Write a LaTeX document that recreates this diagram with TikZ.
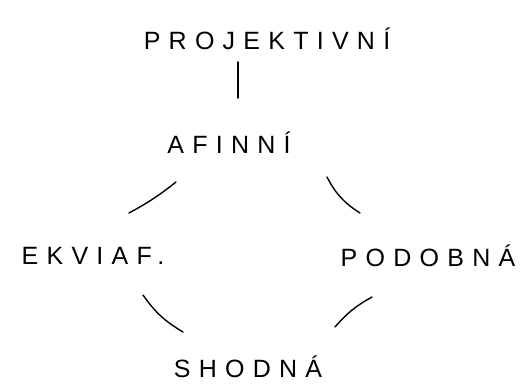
\documentclass[tikz,border=0pt]{standalone}
\usepackage{fontspec}
\newfontfamily\handfont[LetterSpace=33]{Liberation Sans}
\usetikzlibrary{calc}
\begin{document}
\begin{tikzpicture}[x=1pt,y=1pt,
  lbl/.style={inner sep=0pt,font=\handfont\fontsize{25}{27}\selectfont},
  conn/.style={line width=1.4pt,line cap=round}]
\useasboundingbox (0,0) rectangle (526,383);
\node[lbl] (proj) at (267,344) {PROJEKTIVNÍ};
\node[lbl] (afinni) at (229,240) {AFINNÍ};
\node[lbl] (ekviaf) at (93,127) {EKVIAF.};
\node[lbl] (podobna) at (428,127) {PODOBNÁ};
\node[lbl] (shodna) at (248,16) {SHODNÁ};
\draw[conn] ([shift={(-29,-23)}]proj.center) -- ([shift={(9,45)}]afinni.center);
\draw[conn] ([shift={(36,43)}]ekviaf.center) to[bend right=5] ([shift={(-53,-39)}]afinni.center);
\draw[conn] ([shift={(98,-34)}]afinni.center) to[bend right=15] ([shift={(-68,43)}]podobna.center);
\draw[conn] ([shift={(50,-39)}]ekviaf.center) to[bend right=12] ([shift={(-65,35)}]shodna.center);
\draw[conn] ([shift={(87,40)}]shodna.center) to[bend left=10] ([shift={(-56,-41)}]podobna.center);
\end{tikzpicture}
\end{document}
